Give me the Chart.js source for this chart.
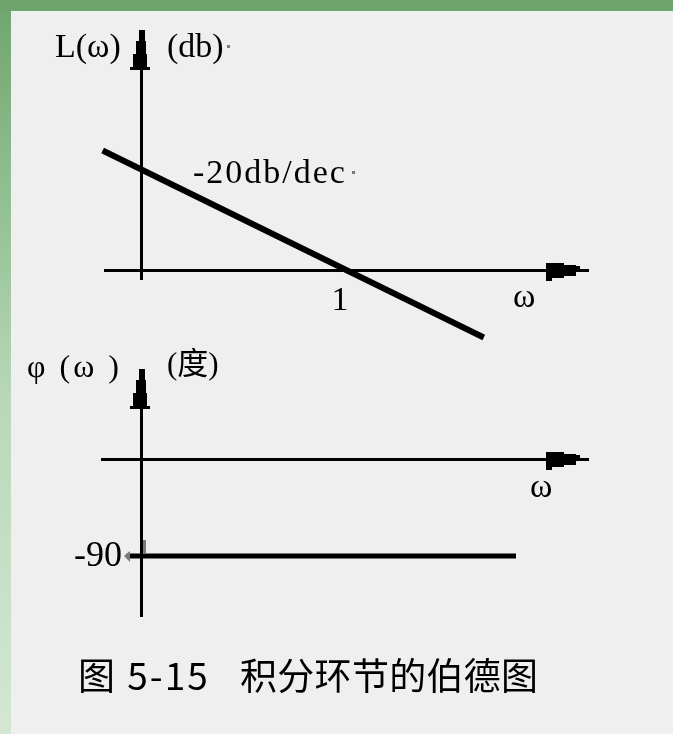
<!DOCTYPE html>
<html>
<head>
<meta charset="utf-8">
<script src="https://cdn.jsdelivr.net/npm/chart.js@4"></script>
<style>
  html, body { margin: 0; padding: 0; }
  body {
    width: 673px; height: 734px; position: relative; overflow: hidden;
    background: linear-gradient(180deg, #6fa46f 0%, #8fbe8f 25%, #b9d8b9 55%, #d3e7d3 100%);
  }
  .topband { position: absolute; left: 0; top: 0; width: 673px; height: 11px; background: #6ea46e; }
  .panel { position: absolute; left: 11px; top: 11px; right: 0; bottom: 0; background: #efefef; }
  #bode { position: absolute; left: 0; top: 0; }
  .caption {
    position: absolute; top: 654px;
    font: 37px "Noto Sans CJK SC", sans-serif; line-height: 40px;
    color: #000; white-space: pre;
  }
  .caption.num { left: 78px; letter-spacing: 2px; }
  .caption.name { left: 240px; letter-spacing: 0.3px; }
</style>
</head>
<body>
<div class="topband"></div>
<div class="panel"></div>
<canvas id="bode" width="673" height="734"></canvas>
<div class="caption num">图 5-15</div>
<div class="caption name">积分环节的伯德图</div>
<script>
// 积分环节 L(ω) = -20lgω, φ(ω) = -90°
const magOmega = [0.065, 4.7];
const magDb = [23.7, -13.4];
const phaseOmega = [0.085, 6.75];
const phaseDeg = [-90, -90];

const axisOmega = 0.1;     // 纵轴所在的 ω
const crossOmega = 1;      // 幅频线穿过 0dB 处
const phaseTick = -90;

const magTitle = "L(ω)";
const magUnit = "(db)";
const slopeText = "-20db/dec";
const phaseTitle = "φ (ω )";
const phaseUnit = "(度)";
const omegaText = "ω";

// 画布尺寸与比例
const W = 673, H = 734;
const onePx = 346, decadePx = 205;
const magZeroPx = 270, pxPerDb = 5.04;
const phaseZeroPx = 459, pxPerDeg = 97 / 90;

function linRange(zeroPx, k) {
  return { min: (zeroPx - H) / k, max: zeroPx / k };
}

function upArrow(ctx, x, tip) {
  ctx.fillRect(x - 2, tip, 6, 12);
  ctx.fillRect(x - 5, tip + 11, 10, 14);
  ctx.fillRect(x - 8, tip + 24, 14, 13);
  ctx.fillRect(x - 11, tip + 37, 20, 3);
}

function rightArrow(ctx, end, y) {
  ctx.fillRect(end - 43, y - 7, 18, 15);
  ctx.fillRect(end - 26, y - 5, 13, 11);
  ctx.fillRect(end - 14, y - 4, 5, 6);
  ctx.fillRect(end - 43, y + 8, 6, 3);
}

const axesPlugin = {
  id: "bodeAxes",
  beforeDatasetsDraw(chart) {
    const { ctx, scales } = chart;
    const x0 = Math.round(scales.x.getPixelForValue(axisOmega));
    const yM = Math.round(scales.yMag.getPixelForValue(0));
    const yP = Math.round(scales.yPhase.getPixelForValue(0));
    const end = x0 + 448;
    ctx.save();
    ctx.fillStyle = "#000";

    // 幅频坐标
    ctx.fillRect(x0 - 1, yM - 240, 3, 250);
    upArrow(ctx, x0, yM - 240);
    ctx.fillRect(x0 - 37, yM - 1, end - x0 + 37, 3);
    rightArrow(ctx, end, yM);

    // 相频坐标
    ctx.fillRect(x0 - 1, yP - 90, 3, 248);
    upArrow(ctx, x0, yP - 90);
    ctx.fillRect(x0 - 40, yP - 1, end - x0 + 40, 3);
    rightArrow(ctx, end, yP);
    ctx.restore();
  },
  afterDatasetsDraw(chart) {
    const { ctx, scales } = chart;
    const x0 = scales.x.getPixelForValue(axisOmega);
    const yM = scales.yMag.getPixelForValue(0);
    const yP = scales.yPhase.getPixelForValue(0);
    const y90 = scales.yPhase.getPixelForValue(phaseTick);
    const x1 = scales.x.getPixelForValue(crossOmega);
    const serif = '"Liberation Serif", "Noto Sans CJK SC", serif';

    ctx.save();
    ctx.fillStyle = "#000";
    ctx.textBaseline = "alphabetic";

    ctx.font = "34px " + serif;
    ctx.fillText(magTitle, x0 - 86, yM - 213);
    ctx.fillText(magUnit, x0 + 26, yM - 213);

    ctx.letterSpacing = "2px";
    ctx.fillText(slopeText, x0 + 52, yM - 87);
    ctx.letterSpacing = "0px";

    ctx.textAlign = "center";
    ctx.fillText(String(crossOmega), x1 - 6, yM + 40);
    ctx.textAlign = "left";
    ctx.fillText(omegaText, x0 + 372, yM + 37);

    ctx.font = "32px " + serif;
    ctx.letterSpacing = "3px";
    ctx.fillText(phaseTitle, x0 - 114, yP - 82);
    ctx.letterSpacing = "0px";
    ctx.font = "31px " + serif;
    ctx.fillText(phaseUnit, x0 + 26, yP - 85);

    ctx.font = "34px " + serif;
    ctx.fillText(omegaText, x0 + 389, yP + 38);

    ctx.textAlign = "right";
    ctx.font = "36px " + serif;
    ctx.fillText(String(phaseTick), x0 - 19, y90 + 10);

    // 小灰色标记
    ctx.fillStyle = "#7a7a7a";
    ctx.fillRect(x0 + 86, yM - 225, 3, 3);
    ctx.fillRect(x0 + 211, yM - 99, 3, 3);
    ctx.beginPath();
    ctx.moveTo(x0 - 17, y90);
    ctx.lineTo(x0 - 11, y90 - 5);
    ctx.lineTo(x0 - 11, y90 + 6);
    ctx.closePath();
    ctx.fill();
    ctx.fillRect(x0 + 2, y90 - 16, 3, 13);
    ctx.restore();
  }
};

const magRange = linRange(magZeroPx, pxPerDb);
const phaseRange = linRange(phaseZeroPx, pxPerDeg);

new Chart(document.getElementById("bode"), {
  type: "line",
  data: {
    datasets: [
      {
        label: "L(ω)",
        data: magOmega.map((w, i) => ({ x: w, y: magDb[i] })),
        xAxisID: "x",
        yAxisID: "yMag",
        borderColor: "#000",
        borderWidth: 6,
        pointRadius: 0,
        borderCapStyle: "butt"
      },
      {
        label: "φ(ω)",
        data: phaseOmega.map((w, i) => ({ x: w, y: phaseDeg[i] })),
        xAxisID: "x",
        yAxisID: "yPhase",
        borderColor: "#000",
        borderWidth: 5,
        pointRadius: 0,
        borderCapStyle: "butt"
      }
    ]
  },
  options: {
    responsive: false,
    animation: false,
    devicePixelRatio: 1,
    layout: { padding: 0 },
    plugins: { legend: { display: false }, tooltip: { enabled: false } },
    scales: {
      x: {
        type: "logarithmic",
        display: false,
        bounds: "data",
        min: Math.pow(10, -onePx / decadePx),
        max: Math.pow(10, (W - onePx) / decadePx)
      },
      yMag: { type: "linear", display: false, bounds: "data", min: magRange.min, max: magRange.max },
      yPhase: { type: "linear", display: false, bounds: "data", min: phaseRange.min, max: phaseRange.max }
    }
  },
  plugins: [axesPlugin]
});
</script>
</body>
</html>
